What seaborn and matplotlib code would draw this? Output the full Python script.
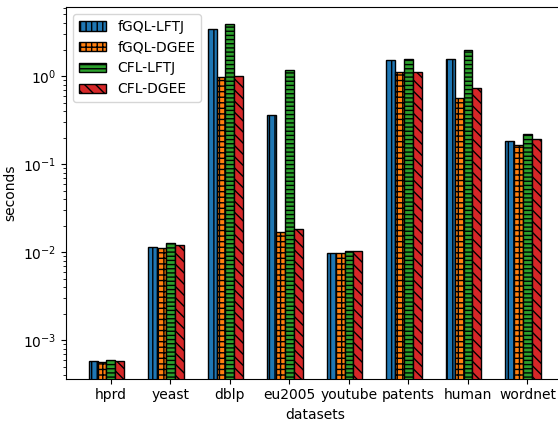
import pandas as pd
import matplotlib
matplotlib.use("Agg")
import matplotlib.pyplot as plt
import seaborn as sns

# data (seconds, log scale)
datasets = ["hprd", "yeast", "dblp", "eu2005", "youtube", "patents", "human", "wordnet"]
methods = ["fGQL-LFTJ", "fGQL-DGEE", "CFL-LFTJ", "CFL-DGEE"]
fgql_lftj = [5.8e-4, 0.0114, 3.42, 0.36, 0.0099, 1.54, 1.58, 0.182]
fgql_dgee = [5.7e-4, 0.0112, 0.97, 0.0169, 0.0097, 1.12, 0.567, 0.164]
cfl_lftj = [5.9e-4, 0.0128, 3.9, 1.18, 0.0104, 1.58, 1.95, 0.219]
cfl_dgee = [5.75e-4, 0.0122, 0.99, 0.0182, 0.0103, 1.12, 0.736, 0.195]

colors = ["#1f77b4", "#ff7f0e", "#2ca02c", "#d62728"]
hatches = ["|||", "+++", "----", "\\\\\\"]

rows = []
for m, vals in zip(methods, [fgql_lftj, fgql_dgee, cfl_lftj, cfl_dgee]):
    for d, v in zip(datasets, vals):
        rows.append({"dataset": d, "method": m, "seconds": v})
df = pd.DataFrame(rows)

fig = plt.figure(figsize=(5.58, 4.23), dpi=100)
ax = fig.add_axes([66 / 558, 1 - 378.7 / 423, 497.5 / 558, 371.7 / 423])

sns.barplot(data=df, x="dataset", y="seconds", hue="method", order=datasets,
            hue_order=methods, palette=colors, saturation=1, errorbar=None,
            width=0.6, edgecolor="black", linewidth=1, ax=ax)
ax.set_yscale("log")

for cont, h in zip(ax.containers, hatches):
    for bar in cont:
        bar.set_hatch(h)

# ticks sit under the third bar of each group
ax.set_xticks([i + 0.075 for i in range(len(datasets))])
ax.set_xticklabels(datasets)
ax.set_xlim(-0.68, 7.68)
ax.set_ylim(3.66e-4, 6.08)
ax.set_xlabel("datasets")
ax.set_ylabel("seconds")
ax.spines["right"].set_visible(False)  # falls outside the cropped figure

ax.legend(handles=[c.patches[0] for c in ax.containers], labels=methods,
          loc="upper left")

fig.savefig("out.png", dpi=100)
